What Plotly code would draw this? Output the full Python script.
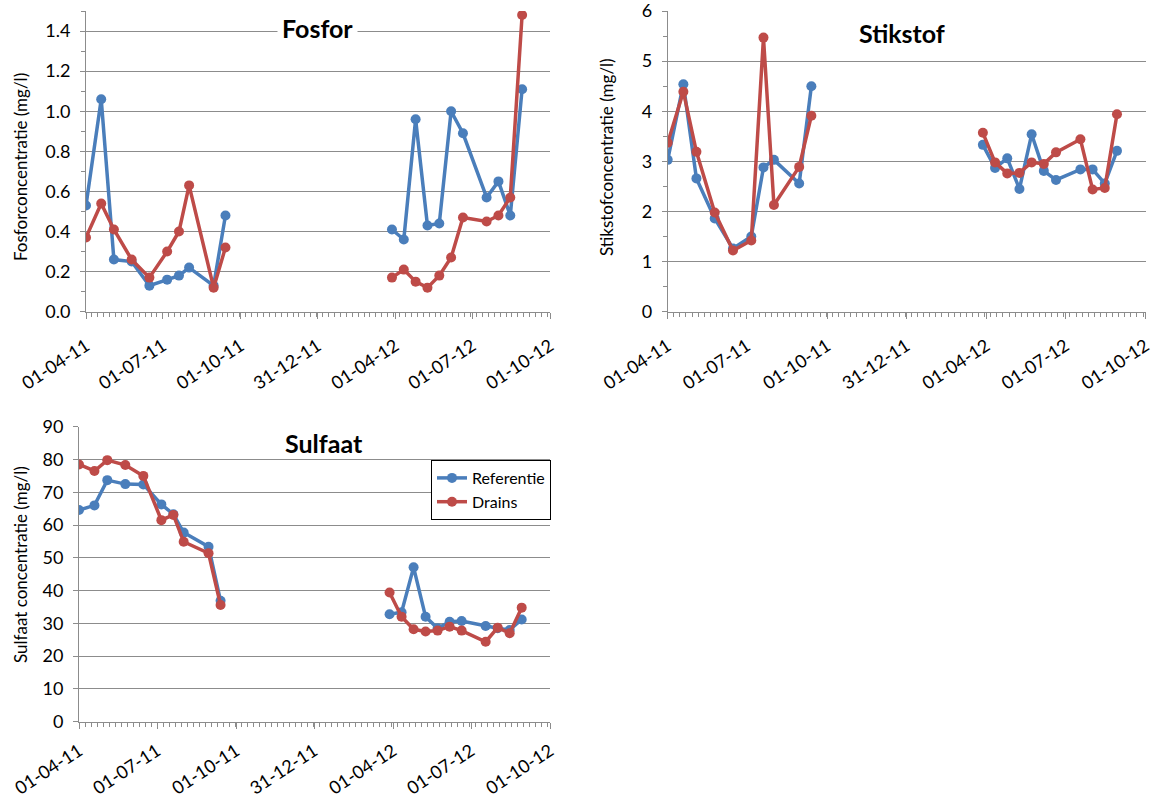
import plotly.graph_objects as go

# Sampling dates (two campaigns; the winter gap is left blank)
dates_2011 = ["2011-04-01", "2011-04-19", "2011-05-04", "2011-05-25", "2011-06-15",
              "2011-07-06", "2011-07-20", "2011-08-01", "2011-08-30", "2011-09-13"]
dates_2012 = ["2012-03-28", "2012-04-11", "2012-04-25", "2012-05-09", "2012-05-23",
              "2012-06-06", "2012-06-20", "2012-07-18", "2012-08-01", "2012-08-15",
              "2012-08-29"]

# Fosfor (mg/l)
fosfor_ref_2011 = [0.53, 1.06, 0.26, 0.25, 0.13, 0.16, 0.18, 0.22, 0.13, 0.48]
fosfor_ref_2012 = [0.41, 0.36, 0.96, 0.43, 0.44, 1.00, 0.89, 0.57, 0.65, 0.48, 1.11]
fosfor_drn_2011 = [0.37, 0.54, 0.41, 0.26, 0.17, 0.30, 0.40, 0.63, 0.12, 0.32]
fosfor_drn_2012 = [0.17, 0.21, 0.15, 0.12, 0.18, 0.27, 0.47, 0.45, 0.48, 0.57, 1.48]

# Stikstof (mg/l)
stikstof_ref_2011 = [3.03, 4.54, 2.66, 1.86, 1.26, 1.50, 2.88, 3.03, 2.56, 4.50]
stikstof_ref_2012 = [3.33, 2.87, 3.06, 2.45, 3.54, 2.81, 2.63, 2.84, 2.84, 2.56, 3.21]
stikstof_drn_2011 = [3.37, 4.39, 3.19, 1.98, 1.22, 1.42, 5.47, 2.13, 2.89, 3.91]
stikstof_drn_2012 = [3.57, 2.98, 2.76, 2.77, 2.98, 2.95, 3.18, 3.44, 2.44, 2.47, 3.94]

# Sulfaat (mg/l)
sulfaat_ref_2011 = [64.6, 66.0, 73.7, 72.5, 72.4, 66.3, 63.3, 57.7, 53.4, 36.9]
sulfaat_ref_2012 = [32.8, 33.4, 47.1, 32.0, 28.5, 30.5, 30.7, 29.2, 28.5, 28.0, 31.2]
sulfaat_drn_2011 = [78.5, 76.5, 79.8, 78.3, 75.0, 61.5, 63.1, 54.9, 51.4, 35.6]
sulfaat_drn_2012 = [39.4, 32.0, 28.2, 27.5, 27.8, 29.0, 27.8, 24.4, 28.7, 27.0, 34.8]

tick_dates = ["2011-04-01", "2011-07-01", "2011-10-01", "2011-12-31",
              "2012-04-01", "2012-07-01", "2012-10-01"]
tick_labels = ["01-04-11", "01-07-11", "01-10-11", "31-12-11",
               "01-04-12", "01-07-12", "01-10-12"]

fosfor_ticks = [0, 0.2, 0.4, 0.6, 0.8, 1.0, 1.2, 1.4]
stikstof_ticks = [0, 1, 2, 3, 4, 5, 6]
sulfaat_ticks = [0, 10, 20, 30, 40, 50, 60, 70, 80, 90]

BLUE = "#4A7EBB"
RED = "#BE4B48"
GRID = "#8C8C8C"
FONT = "Lato"

W, H = 1153, 798


def px_x(v):
    return v / W


def px_y(v):
    return 1 - v / H


fig = go.Figure()

panels = [
    # (xaxis id, yaxis id, ref2011, ref2012, drn2011, drn2012)
    ("x", "y", fosfor_ref_2011, fosfor_ref_2012, fosfor_drn_2011, fosfor_drn_2012),
    ("x2", "y2", stikstof_ref_2011, stikstof_ref_2012, stikstof_drn_2011, stikstof_drn_2012),
    ("x3", "y3", sulfaat_ref_2011, sulfaat_ref_2012, sulfaat_drn_2011, sulfaat_drn_2012),
]

x_all = dates_2011 + [None] + dates_2012
for i, (xa, ya, r1, r2, d1, d2) in enumerate(panels):
    for name, color, a, b in (("Referentie", BLUE, r1, r2), ("Drains", RED, d1, d2)):
        fig.add_trace(go.Scatter(
            x=x_all, y=a + [None] + b, xaxis=xa, yaxis=ya,
            mode="lines+markers", name=name,
            line=dict(color=color, width=3.5),
            marker=dict(color=color, size=10),
            connectgaps=False,
            showlegend=(i == 2),
        ))

xcommon = dict(
    type="date", range=["2011-04-01", "2012-10-01"],
    tickmode="array", tickvals=tick_dates, ticktext=tick_labels,
    tickangle=-33, ticks="outside", ticklen=6, tickcolor=GRID,
    showline=True, linecolor=GRID, linewidth=1,
    showgrid=False, zeroline=False, automargin=False,
    tickfont=dict(family=FONT, size=18, color="#000"),
    ticklabelstandoff=10, ticklabeloverflow="allow",
    minor=dict(ticks="outside", ticklen=4, tickcolor=GRID,
               dtick=7 * 86400000, tick0="2011-04-01", showgrid=False),
)

ycommon = dict(
    tickmode="array",
    ticks="outside", ticklen=5, tickcolor=GRID,
    showline=True, linecolor=GRID, linewidth=1,
    showgrid=True, gridcolor=GRID, gridwidth=1, zeroline=False,
    automargin=False, ticklabeloverflow="allow",
    tickfont=dict(family=FONT, size=18, color="#000"),
    ticklabelstandoff=6,
)

top_y = [px_y(311.7), px_y(11)]
bot_y = [px_y(721.7), px_y(426.7)]

fig.update_layout(
    width=W, height=H,
    margin=dict(l=0, r=0, t=0, b=0, autoexpand=False),
    paper_bgcolor="white", plot_bgcolor="white",
    font=dict(family=FONT, color="#000"),
    xaxis=dict(xcommon, domain=[px_x(86), px_x(550)], anchor="y"),
    yaxis=dict(ycommon, domain=top_y, anchor="x", range=[0, 1.5],
               tickvals=fosfor_ticks,
               ticktext=[f"{v:.1f}" for v in fosfor_ticks],
               minor=dict(ticks="outside", ticklen=4, tickcolor=GRID, dtick=0.1,
                          showgrid=False)),
    xaxis2=dict(xcommon, domain=[px_x(667.7), px_x(1145.7)], anchor="y2"),
    yaxis2=dict(ycommon, domain=top_y, anchor="x2", range=[0, 6.001],
                tickvals=stikstof_ticks,
                ticktext=[str(v) for v in stikstof_ticks],
                minor=dict(ticks="outside", ticklen=4, tickcolor=GRID, dtick=0.5,
                           showgrid=False)),
    xaxis3=dict(xcommon, domain=[px_x(79), px_x(550)], anchor="y3",
                ticklabelstandoff=5),
    yaxis3=dict(ycommon, domain=bot_y, anchor="x3", range=[0, 90.01],
                tickvals=sulfaat_ticks,
                ticktext=[str(v) for v in sulfaat_ticks]),
    legend=dict(
        x=px_x(431), y=px_y(460), xanchor="left", yanchor="top",
        bgcolor="white", bordercolor="#000", borderwidth=1,
        font=dict(family=FONT, size=16, color="#000"),
        itemwidth=30, tracegroupgap=0,
    ),
)

# Panel titles
titles = [("Fosfor", 317, 28, True), ("Stikstof", 902, 33, False), ("Sulfaat", 324, 443, False)]
for text, cx, cy, boxed in titles:
    fig.add_annotation(
        x=px_x(cx), y=px_y(cy), xref="paper", yref="paper",
        text=f"<b>{text}</b>", showarrow=False,
        font=dict(family=FONT, size=25, color="#000"),
        bgcolor="white" if boxed else None, borderpad=4,
        xanchor="center", yanchor="middle",
    )

# Y-axis titles
ytitles = [("Fosforconcentratie (mg/l)", 20, 167),
           ("Stikstofconcentratie (mg/l)", 607, 157),
           ("Sulfaat concentratie (mg/l)", 20, 565)]
for text, cx, cy in ytitles:
    fig.add_annotation(
        x=px_x(cx), y=px_y(cy), xref="paper", yref="paper",
        text=text, showarrow=False, textangle=-90,
        font=dict(family=FONT, size=17, color="#000"),
        xanchor="center", yanchor="middle",
    )

fig.write_html("out.html")
